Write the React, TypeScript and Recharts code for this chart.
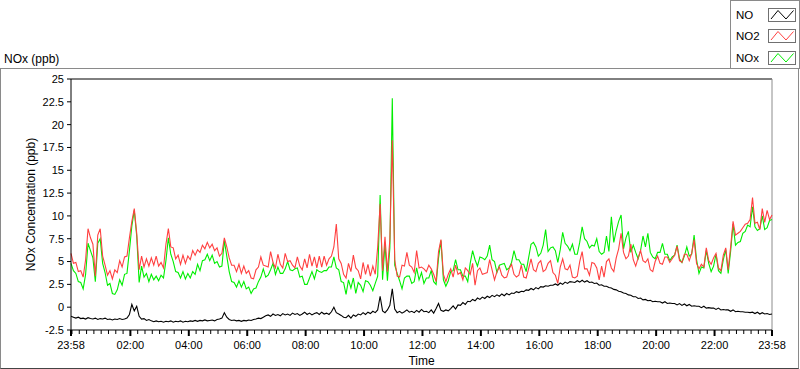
import React from 'react';
import { LineChart, Line, XAxis, YAxis, ReferenceLine } from 'recharts';

const FONT = '"Liberation Sans", Arial, sans-serif';
const STEP_MIN = 5; // minutes between samples, starting 23:58

const NO: number[] = [
  -1.0, -1.1, -1.2, -1.1, -1.25, -1.2, -1.3, -1.15, -1.25, -1.3,
  -1.2, -1.35, -1.25, -1.3, -1.2, -1.35, -1.3, -1.4, -1.3, -1.35,
  -1.25, -1.35, -1.3, -1.2, -0.8, 0.3, -0.4, 0.1, -1.0, -1.3,
  -1.25, -1.45, -1.35, -1.5, -1.6, -1.5, -1.6, -1.55, -1.65, -1.55,
  -1.6, -1.5, -1.65, -1.55, -1.6, -1.5, -1.65, -1.55, -1.6, -1.5,
  -1.55, -1.45, -1.55, -1.45, -1.5, -1.4, -1.5, -1.45, -1.4, -1.5,
  -1.35, -1.3, -1.2, -0.6, -1.1, -1.35, -1.45, -1.4, -1.5, -1.45,
  -1.55, -1.45, -1.5, -1.4, -1.45, -1.35, -1.3, -1.2, -1.25, -1.1,
  -0.95, -0.85, -1.0, -0.75, -0.9, -0.8, -0.95, -0.7, -0.85, -0.75,
  -0.9, -0.65, -0.8, -0.7, -0.9, -0.75, -0.55, -0.8, -0.65, -0.85,
  -0.7, -0.6, -0.8, -0.55, -0.75, -0.65, -0.8, -0.5, 0.0, -0.6,
  -0.75, -0.9, -1.1, -1.15, -0.9, -1.2, -0.85, -1.0, -0.75, -0.85,
  -0.6, -0.8, -0.55, -0.7, -0.45, -0.6, -0.3, 1.2, -0.4, -0.6,
  -0.3, 0.2, 2.0, -0.2, -0.6, -0.45, -0.65, -0.5, -0.3, -0.55,
  -0.45, -0.6, -0.35, -0.55, -0.25, -0.5, -0.45, -0.6, -0.3, -0.65,
  -0.15, 0.4, -0.35, -0.45, -0.3, -0.4, -0.15, 0.15, -0.2, 0.25,
  0.2, 0.5, 0.3, 0.65, 0.6, 0.85, 0.7, 1.0, 0.85, 1.1,
  0.95, 1.2, 1.05, 1.3, 1.15, 1.35, 1.2, 1.45, 1.25, 1.5,
  1.35, 1.55, 1.5, 1.7, 1.6, 1.75, 1.7, 1.9, 1.85, 2.05,
  1.9, 2.15, 2.0, 2.25, 2.2, 2.35, 2.3, 2.4, 2.4, 2.55,
  2.4, 2.65, 2.5, 2.75, 2.6, 2.8, 2.75, 2.7, 2.9, 2.75,
  2.95, 2.75, 2.9, 2.7, 2.75, 2.6, 2.65, 2.4, 2.45, 2.3,
  2.3, 2.15, 2.1, 1.95, 1.9, 1.75, 1.7, 1.55, 1.5, 1.35,
  1.3, 1.15, 1.15, 0.95, 1.0, 0.8, 0.85, 0.7, 0.75, 0.6,
  0.65, 0.6, 0.6, 0.45, 0.6, 0.4, 0.45, 0.4, 0.4, 0.25,
  0.4, 0.2, 0.35, 0.15, 0.3, 0.1, 0.15, 0.1, 0.1, -0.05,
  0.1, -0.1, -0.05, -0.1, -0.1, -0.25, -0.1, -0.3, -0.25, -0.3,
  -0.3, -0.45, -0.3, -0.5, -0.45, -0.5, -0.5, -0.55, -0.55, -0.6,
  -0.55, -0.7, -0.55, -0.75, -0.6, -0.75, -0.7, -0.8, -0.75,
];

const NO2: number[] = [
  5.9, 4.8, 4.9, 3.9, 4.0, 3.3, 5.2, 8.6, 7.6, 6.9,
  3.4, 7.9, 8.6, 5.6, 4.6, 3.5, 4.0, 3.1, 4.1, 3.8,
  5.1, 4.4, 5.5, 5.6, 7.6, 9.4, 10.8, 8.1, 4.1, 5.6,
  4.4, 5.3, 4.5, 5.4, 4.6, 5.6, 4.5, 4.9, 4.3, 6.9,
  8.6, 6.6, 6.5, 5.3, 5.7, 4.7, 5.7, 4.8, 5.6, 5.2,
  6.2, 5.7, 6.3, 6.0, 6.8, 6.4, 7.1, 6.5, 6.9, 6.2,
  6.5, 5.6, 5.9, 7.6, 6.6, 5.4, 4.6, 4.6, 3.9, 4.7,
  3.7, 4.5, 3.7, 4.0, 3.2, 3.1, 4.1, 4.4, 5.5, 4.6,
  4.5, 4.4, 6.1, 4.9, 4.3, 5.8, 4.7, 4.3, 5.9, 5.0,
  5.1, 4.6, 4.3, 5.5, 4.5, 4.1, 5.3, 4.3, 5.8, 4.5,
  5.5, 4.3, 5.6, 4.4, 5.6, 4.6, 5.3, 5.6, 6.6, 9.1,
  5.3, 4.8, 3.6, 3.2, 4.8, 3.9, 5.7, 4.3, 4.0, 3.1,
  4.9, 3.6, 4.7, 3.4, 4.5, 3.6, 6.6, 11.3, 4.0, 7.7,
  3.9, 7.4, 18.3, 5.2, 3.4, 3.3, 4.6, 4.5, 6.0, 4.6,
  4.4, 3.8, 6.2, 4.3, 4.4, 4.2, 3.9, 4.6, 4.2, 3.6,
  2.8, 6.1, 7.4, 3.6, 2.8, 3.6, 4.2, 3.3, 4.6, 3.6,
  3.8, 3.0, 4.3, 4.0, 3.6, 4.8, 2.4, 4.0, 4.3, 3.6,
  3.7, 3.8, 5.2, 4.1, 3.0, 3.9, 4.4, 3.5, 3.2, 3.3,
  4.2, 4.7, 3.6, 3.3, 3.5, 4.6, 3.3, 3.2, 4.2, 5.3,
  4.1, 3.9, 4.8, 5.1, 3.9, 4.1, 4.8, 5.1, 3.8, 3.5,
  2.6, 4.4, 5.3, 4.2, 4.1, 4.6, 3.3, 3.2, 3.4, 5.0,
  6.1, 4.2, 4.2, 3.5, 4.9, 4.8, 4.3, 3.0, 4.5, 3.3,
  5.0, 5.3, 4.3, 3.9, 5.4, 6.4, 8.1, 6.0, 5.3, 5.6,
  6.9, 5.2, 4.5, 5.4, 6.2, 5.1, 4.9, 5.3, 4.1, 3.9,
  5.0, 5.6, 4.8, 4.7, 5.5, 5.5, 4.9, 5.3, 5.7, 6.7,
  5.1, 4.9, 5.8, 5.8, 5.1, 5.9, 7.4, 4.8, 4.2, 4.7,
  4.4, 6.5, 5.1, 4.7, 5.4, 5.9, 4.3, 4.0, 5.7, 6.5,
  4.1, 6.6, 9.4, 7.9, 8.1, 8.3, 8.7, 9.1, 9.2, 9.6,
  12.0, 9.2, 9.3, 8.5, 10.8, 9.3, 10.6, 9.6, 10.1,
];

const NOX: number[] = [
  4.8, 4.0, 3.7, 2.8, 2.7, 2.0, 3.6, 7.0, 6.2, 5.4,
  2.8, 7.0, 7.5, 4.8, 3.8, 2.4, 2.6, 1.5, 1.4, 1.9,
  3.0, 2.4, 3.6, 3.7, 6.2, 8.9, 10.6, 7.8, 2.7, 4.5,
  3.3, 3.7, 2.8, 3.6, 3.0, 3.4, 2.9, 3.5, 3.2, 5.1,
  7.6, 5.8, 5.0, 3.9, 3.8, 3.2, 3.9, 3.1, 3.7, 3.2,
  3.9, 3.6, 4.7, 4.0, 5.1, 5.2, 5.8, 5.1, 5.7, 4.8,
  5.0, 4.4, 4.5, 7.3, 5.6, 3.9, 2.8, 2.7, 2.2, 2.9,
  2.2, 2.8, 2.0, 2.2, 1.5, 2.0, 2.1, 2.8, 3.3, 4.2,
  3.3, 3.5, 4.1, 4.8, 3.6, 4.4, 3.7, 3.7, 4.2, 5.0,
  4.1, 4.0, 4.2, 4.3, 3.3, 3.4, 2.5, 2.5, 3.2, 3.9,
  3.1, 4.1, 3.9, 3.8, 4.0, 4.0, 4.4, 4.4, 5.5, 4.3,
  4.1, 2.8, 2.7, 1.4, 3.0, 2.1, 3.2, 1.5, 2.7, 2.4,
  1.7, 2.9, 2.8, 2.4, 1.8, 2.6, 3.4, 12.3, 3.0, 6.9,
  2.9, 6.5, 22.9, 4.6, 3.7, 2.9, 2.0, 3.2, 3.4, 3.4,
  2.6, 2.8, 4.3, 3.0, 3.8, 2.6, 3.2, 3.2, 4.0, 2.8,
  2.5, 5.4, 7.3, 3.0, 2.3, 2.9, 3.9, 4.0, 5.2, 4.1,
  4.1, 3.4, 3.4, 2.8, 4.8, 6.2, 5.2, 4.5, 5.5, 5.4,
  5.2, 5.6, 6.8, 5.2, 5.0, 3.8, 4.6, 4.7, 4.8, 4.1,
  4.3, 4.9, 6.2, 5.2, 5.2, 4.7, 4.7, 3.9, 5.4, 6.9,
  7.1, 6.6, 5.6, 5.9, 6.8, 8.5, 6.1, 6.5, 6.6, 6.2,
  4.9, 6.3, 8.2, 7.0, 6.7, 6.2, 6.9, 5.8, 5.8, 7.1,
  8.8, 7.5, 7.2, 6.5, 6.8, 6.7, 7.5, 6.1, 5.8, 6.0,
  7.8, 6.1, 9.9, 7.1, 8.4, 9.4, 10.1, 6.4, 7.6, 8.3,
  6.0, 6.8, 6.0, 5.3, 6.2, 7.8, 6.6, 8.1, 6.0, 5.5,
  5.3, 6.0, 6.0, 7.0, 5.8, 5.8, 5.1, 5.5, 5.7, 6.8,
  5.3, 4.9, 5.6, 6.6, 5.6, 5.8, 7.9, 5.2, 3.7, 4.4,
  4.3, 6.2, 4.8, 3.9, 4.5, 5.8, 4.0, 3.7, 5.2, 6.3,
  3.7, 6.1, 9.1, 6.8, 7.1, 7.2, 8.1, 8.3, 9.0, 8.8,
  11.0, 8.8, 8.4, 8.6, 10.0, 8.5, 8.7, 9.5, 9.6,
];

const SERIES_NAMES = ['NO', 'NO2', 'NOx'];
const SERIES_COLORS = ['#000000', '#ff4040', '#00ee00'];

const Y_TICKS = [-2.5, 0, 2.5, 5, 7.5, 10, 12.5, 15, 17.5, 20, 22.5, 25];
const Y_TICK_LABELS = ['-2.5', '0', '2.5', '5', '7.5', '10', '12.5', '15', '17.5', '20', '22.5', '25'];

// minutes after 23:58
const X_MAJOR_TICKS = [0, 122, 242, 362, 482, 602, 722, 842, 962, 1082, 1202, 1322, 1440];
const X_MAJOR_LABELS = ['23:58', '02:00', '04:00', '06:00', '08:00', '10:00', '12:00', '14:00', '16:00', '18:00', '20:00', '22:00', '23:58'];

const X_MINOR_TICKS: number[] = [];
for (let t = 2; t < 1440; t += 15) {
  if (!X_MAJOR_TICKS.includes(t)) X_MINOR_TICKS.push(t);
}
const X_ALL_TICKS = [...X_MAJOR_TICKS, ...X_MINOR_TICKS].sort((a, b) => a - b);

const XTick = (props: any) => {
  const { x, y, payload } = props;
  const idx = X_MAJOR_TICKS.indexOf(payload.value);
  if (idx >= 0) {
    return (
      <g>
        <line x1={x} x2={x} y1={y} y2={y + 6} stroke="#000" strokeWidth={2} />
        <text x={x} y={y + 19} textAnchor="middle" fontSize={11} fontFamily={FONT} fill="#000">
          {X_MAJOR_LABELS[idx]}
        </text>
      </g>
    );
  }
  return <line x1={x} x2={x} y1={y} y2={y + 4} stroke="#000" strokeWidth={1} />;
};

const XLabel = (props: any) => {
  const vb = props.viewBox || { x: 71, y: 330, width: 701, height: 39 };
  const cx = vb.x + vb.width / 2;
  return (
    <text x={cx} y={vb.y + 35} textAnchor="middle" fontSize={12} fontFamily={FONT} fill="#000">
      Time
    </text>
  );
};

const YLabel = (props: any) => {
  const vb = props.viewBox || { x: 0, y: 79, width: 71, height: 251 };
  const cx = 31;
  const cy = vb.y + vb.height / 2;
  return (
    <text
      x={cx}
      y={cy}
      transform={`rotate(-90 ${cx} ${cy})`}
      textAnchor="middle"
      dominantBaseline="central"
      fontSize={12}
      fontFamily={FONT}
      fill="#000"
    >
      NOx Concentration (ppb)
    </text>
  );
};

const LegendIcon = ({ color }: { color: string }) => (
  <svg width={28} height={14} style={{ position: 'absolute', left: 32, top: 0 }}>
    <rect x={0.5} y={0.5} width={27} height={13} fill="#fff" stroke="#707070" />
    <polyline points="3,11 10,2.5 18,11 25.5,2.5" fill="none" stroke={color} strokeWidth={1} />
  </svg>
);

export default function App() {
  const data = NO.map((v, i) => ({ t: i * STEP_MIN, NO: v, NO2: NO2[i], NOx: NOX[i] }));
  const legendRows = [7, 28, 50];
  return (
    <div style={{ position: 'absolute', left: 0, top: 0, width: 800, height: 369, background: '#fff', overflow: 'hidden', fontFamily: FONT }}>
      <div
        style={{
          position: 'absolute', left: 0, top: 68, width: 799, height: 301, boxSizing: 'border-box',
          borderTop: '1px solid #8a8a8a', borderLeft: '1px solid #8a8a8a', borderRight: '1px solid #8a8a8a', borderBottom: '1px solid #444',
        }}
      />
      <div style={{ position: 'absolute', left: 4, top: 51, fontSize: 12, lineHeight: '16px', color: '#000', whiteSpace: 'nowrap' }}>NOx (ppb)</div>
      <div style={{ position: 'absolute', left: 730, top: 0, width: 70, height: 69, boxSizing: 'border-box', border: '1px solid #8a8a8a', background: '#fff' }}>
        {SERIES_NAMES.map((name, i) => (
          <div key={name} style={{ position: 'absolute', left: 5, top: legendRows[i], width: 62, height: 14 }}>
            <span style={{ position: 'absolute', left: 0, top: -1, fontSize: 11.5, lineHeight: '16px', color: '#000' }}>{name}</span>
            <LegendIcon color={SERIES_COLORS[i]} />
          </div>
        ))}
      </div>
      <div style={{ position: 'absolute', left: 0, top: 0 }}>
        <LineChart width={800} height={369} data={data} margin={{ top: 79, right: 28, bottom: 0, left: 0 }}>
          <XAxis
            dataKey="t"
            type="number"
            domain={[0, 1440]}
            ticks={X_ALL_TICKS}
            interval={0}
            height={39}
            tickSize={0}
            tickMargin={0}
            tickLine={false}
            axisLine={{ stroke: '#000', strokeWidth: 1 }}
            tick={<XTick />}
            label={<XLabel />}
          />
          <YAxis
            type="number"
            domain={[-2.5, 25]}
            ticks={Y_TICKS}
            interval={0}
            width={71}
            tickSize={4}
            tickMargin={3}
            tickLine={{ stroke: '#000' }}
            axisLine={{ stroke: '#000', strokeWidth: 1 }}
            tick={{ fontSize: 11, fill: '#000', fontFamily: FONT }}
            tickFormatter={(v: number) => Y_TICK_LABELS[Y_TICKS.indexOf(v)] ?? String(v)}
            label={<YLabel />}
          />
          <ReferenceLine y={25} stroke="#000" strokeWidth={1} />
          <ReferenceLine x={1440} stroke="#8c8c8c" strokeWidth={1} />
          <Line dataKey="NO" stroke={SERIES_COLORS[0]} strokeWidth={1.1} dot={false} isAnimationActive={false} type="linear" />
          <Line dataKey="NOx" stroke={SERIES_COLORS[2]} strokeWidth={1.1} dot={false} isAnimationActive={false} type="linear" />
          <Line dataKey="NO2" stroke={SERIES_COLORS[1]} strokeWidth={1.1} dot={false} isAnimationActive={false} type="linear" />
        </LineChart>
      </div>
    </div>
  );
}
